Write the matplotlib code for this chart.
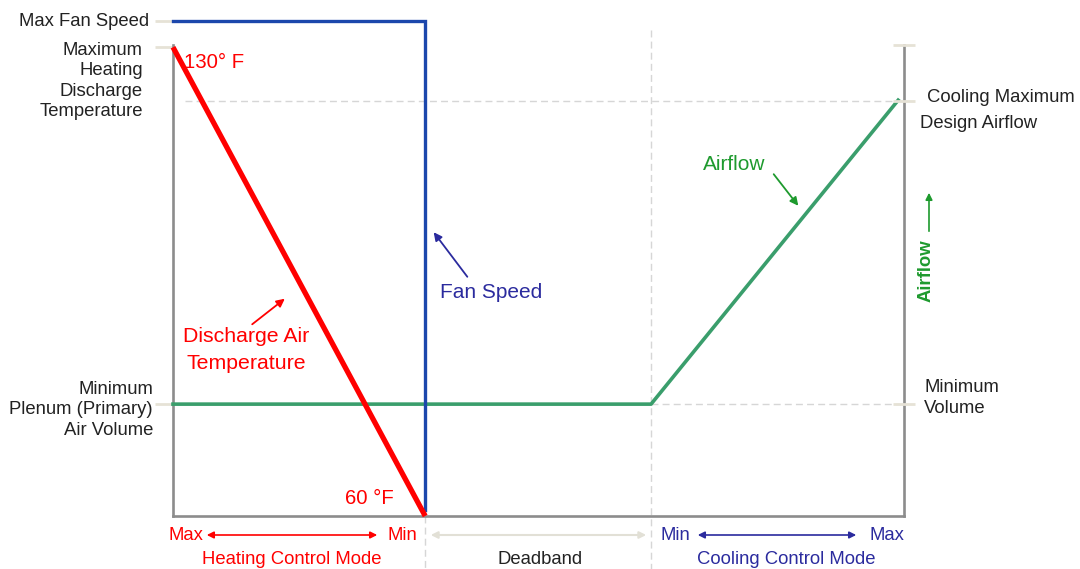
import matplotlib
matplotlib.use("Agg")
import matplotlib.pyplot as plt

plt.rcParams['font.family'] = ['Liberation Sans', 'DejaVu Sans']

# ---- data (x: control position 0..100 across frame, y: relative level 0..100) ----
heating_x = [0, 34.5]          # Max heating -> Min heating
discharge_temp = [94.7, 0]     # 130 F -> 60 F
fan_x = [0, 34.5, 34.5]
fan_speed = [100, 100, 1.2]
airflow_x = [0, 65.4, 99.2]
airflow = [22.6, 22.6, 84.0]
deadband_end = 65.4
heating_end = 34.5
left_ticks = [100, 94.7, 22.6]
right_ticks = [95.2, 83.8, 22.6]

RED = "#FF0000"
BLUE_LINE = "#1C47AC"
BLUE_TXT = "#2B2B9E"
GREEN_LINE = "#3A9E6C"
GREEN_TXT = "#1E9A2E"
GRAY = "#8C8C8C"
DASH = "#D6D6D6"
TICKC = "#E6E2D6"
DARK = "#222222"

FS = 13.3     # small labels
FL = 15.3     # large annotations
LS = 1.27

W, H = 1080, 569
fig = plt.figure(figsize=(W / 100, H / 100), dpi=100)
ax = fig.add_axes([173 / W, 53 / H, 731 / W, 495 / H])
ax.set_xlim(0, 100)
ax.set_ylim(0, 100)

ax.spines["top"].set_visible(False)
for s in ["left", "right", "bottom"]:
    ax.spines[s].set_color(GRAY)
    ax.spines[s].set_linewidth(1.9)
ax.spines["left"].set_bounds(0, 95.2)
ax.spines["right"].set_bounds(0, 95.2)
ax.set_xticks([])
ax.set_yticks(left_ticks)
ax.set_yticklabels([])
ax.tick_params(axis='y', direction='out', length=13, width=2, color=TICKC)

ax2 = ax.twinx()
ax2.set_ylim(0, 100)
for s in ["top", "left", "bottom", "right"]:
    ax2.spines[s].set_visible(False)
ax2.set_yticks(right_ticks)
ax2.set_yticklabels([])
ax2.tick_params(axis='y', direction='inout', length=16, width=2, color=TICKC)

# dashed guides
ax.plot([1.6, 100], [right_ticks[1]] * 2, color=DASH, lw=1, ls=(0, (5, 3)), clip_on=False, zorder=1)
ax.plot([deadband_end, 100], [airflow[0]] * 2, color=DASH, lw=1, ls=(0, (5, 3)), clip_on=False, zorder=1)
ax.plot([deadband_end] * 2, [98.2, -10.7], color=DASH, lw=1, ls=(0, (5, 3)), clip_on=False, zorder=1)
ax.plot([heating_end] * 2, [0, -10.7], color=DASH, lw=1, ls=(0, (5, 3)), clip_on=False, zorder=1)

# main lines
ax.plot(airflow_x, airflow, color=GREEN_LINE, lw=2.6, clip_on=False, zorder=3)
ax.plot(fan_x, fan_speed, color=BLUE_LINE, lw=2.4, clip_on=False, zorder=4,
        solid_joinstyle='miter')
ax.plot(heating_x, discharge_temp, color=RED, lw=3.8, clip_on=False, zorder=5,
        solid_capstyle='butt')


def fp(x, y):
    return (x / W, 1 - y / H)


T = fig.transFigure


def arrow(p0, p1, color, style='-|>', ms=12, lw=1.3):
    fig.patches.append(matplotlib.patches.FancyArrowPatch(
        fp(*p0), fp(*p1), transform=T, arrowstyle=style, mutation_scale=ms,
        color=color, lw=lw))


# left labels
fig.text(*fp(149, 21), "Max Fan Speed", ha='right', va='center', fontsize=FS, color=DARK)
fig.text(*fp(143, 81), "Maximum\nHeating\nDischarge\nTemperature", ha='right', va='center',
         fontsize=FS, color=DARK, linespacing=LS)
fig.text(*fp(153, 410), "Minimum\nPlenum (Primary)\nAir Volume", ha='right', va='center',
         fontsize=FS, color=DARK, linespacing=LS)
# right labels
fig.text(*fp(927, 97), "Cooling Maximum", ha='left', va='center', fontsize=FS, color=DARK)
fig.text(*fp(920, 123), "Design Airflow", ha='left', va='center', fontsize=FS, color=DARK)
fig.text(*fp(924, 398), "Minimum\nVolume", ha='left', va='center', fontsize=FS,
         color=DARK, linespacing=LS)

# red annotations
fig.text(*fp(184, 62), "130° F", ha='left', va='center', fontsize=FL - 0.6, color=RED)
fig.text(*fp(345, 498), "60 °F", ha='left', va='center', fontsize=FL - 0.6, color=RED)
fig.text(*fp(246, 350), "Discharge Air\nTemperature", ha='center', va='center', fontsize=FL,
         color=RED, linespacing=1.55)
arrow((250, 326), (287, 297), RED)

# blue annotations
fig.text(*fp(491, 292), "Fan Speed", ha='center', va='center', fontsize=FL - 0.3, color=BLUE_TXT)
arrow((469, 279), (432, 230), BLUE_TXT)

# green annotations
fig.text(*fp(734, 165), "Airflow", ha='center', va='center', fontsize=FL - 0.3, color=GREEN_TXT)
arrow((772, 172), (800, 208), GREEN_TXT)
fig.text(*fp(926, 271), "Airflow", ha='center', va='center', fontsize=FS, color=GREEN_TXT,
         rotation=90, fontweight='bold')
arrow((929, 234), (929, 190), GREEN_TXT, ms=10, lw=1.2)

# bottom control mode labels
fig.text(*fp(186, 535), "Max", ha='center', va='center', fontsize=FS, color=RED)
fig.text(*fp(402, 535), "Min", ha='center', va='center', fontsize=FS, color=RED)
arrow((204, 535), (380, 535), RED, style='<|-|>', ms=10, lw=1.2)
fig.text(*fp(292, 559), "Heating Control Mode", ha='center', va='center', fontsize=FS, color=RED)

arrow((428, 535), (649, 535), '#E2E0D6', style='<|-|>', ms=10, lw=1.5)
fig.text(*fp(540, 559), "Deadband", ha='center', va='center', fontsize=FS, color=DARK)

fig.text(*fp(675, 535), "Min", ha='center', va='center', fontsize=FS, color=BLUE_TXT)
fig.text(*fp(887, 535), "Max", ha='center', va='center', fontsize=FS, color=BLUE_TXT)
arrow((695, 535), (859, 535), BLUE_TXT, style='<|-|>', ms=10, lw=1.2)
fig.text(*fp(786, 559), "Cooling Control Mode", ha='center', va='center', fontsize=FS,
         color=BLUE_TXT)

fig.savefig("out.png", dpi=100, facecolor='white')
